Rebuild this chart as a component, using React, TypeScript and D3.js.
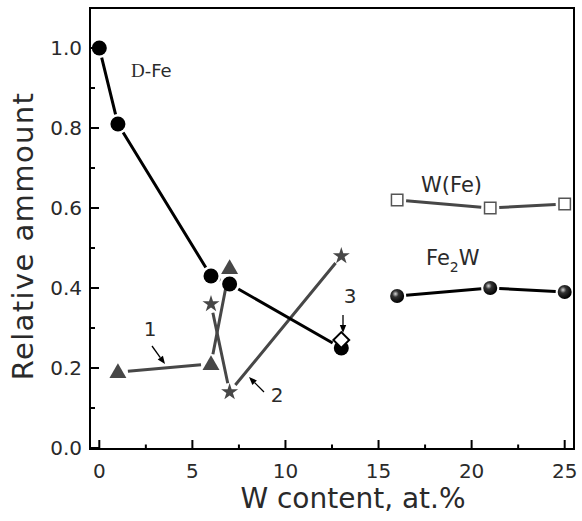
import React from "react";
import * as d3 from "d3";

const alphaFeX = [0, 1, 6, 7, 13];
const alphaFeY = [1.0, 0.81, 0.43, 0.41, 0.25];
const fe2wX = [16, 21, 25];
const fe2wY = [0.38, 0.40, 0.39];
const wfeX = [16, 21, 25];
const wfeY = [0.62, 0.60, 0.61];
const curve1X = [1, 6, 7];
const curve1Y = [0.19, 0.21, 0.45];
const curve2X = [6, 7, 13];
const curve2Y = [0.36, 0.14, 0.48];
const curve3X = [13];
const curve3Y = [0.27];
const xTicks = [0, 5, 10, 15, 20, 25];
const xMinor = [2.5, 7.5, 12.5, 17.5, 22.5];
const yTicks = [0.0, 0.2, 0.4, 0.6, 0.8, 1.0];
const yMinor = [0.1, 0.3, 0.5, 0.7, 0.9];

const W = 582, H = 521;
const left = 90, right = 574, top = 8, bottom = 449;
const x = d3.scaleLinear().domain([-0.5, 25.5]).range([left, right]);
const y = d3.scaleLinear().domain([-0.0025, 1.1]).range([bottom, top]);
const FONT = "'DejaVu Sans', Verdana, sans-serif";
const GRAY = "#474747";
const TXT = "#2a2a2a";

type P = [number, number];
const pts = (xs: number[], ys: number[]): P[] => xs.map((v, i) => [x(v), y(ys[i])]);

function segments(p: P[], gap: number): string {
  const line = d3.line();
  let d = "";
  for (let i = 0; i < p.length - 1; i++) {
    const [x1, y1] = p[i];
    const [x2, y2] = p[i + 1];
    const len = Math.hypot(x2 - x1, y2 - y1);
    if (len <= 2 * gap) continue;
    const ux = (x2 - x1) / len, uy = (y2 - y1) / len;
    d += line([[x1 + ux * gap, y1 + uy * gap], [x2 - ux * gap, y2 - uy * gap]]) || "";
  }
  return d;
}

const tri = d3.symbol().type(d3.symbolTriangle).size(125)()!;
const star = d3.symbol().type(d3.symbolStar).size(90)()!;
const sq = d3.symbol().type(d3.symbolSquare).size(130)()!;
const dia = d3.symbol().type(d3.symbolSquare).size(125)()!;

function Arrow({ x1, y1, x2, y2 }: { x1: number; y1: number; x2: number; y2: number }) {
  const a = Math.atan2(y2 - y1, x2 - x1);
  const L = 8, w = 3.2;
  const bx = x2 - Math.cos(a) * L, by = y2 - Math.sin(a) * L;
  const px = -Math.sin(a) * w, py = Math.cos(a) * w;
  return (
    <g>
      <line x1={x1} y1={y1} x2={bx} y2={by} stroke="#000" strokeWidth={1.3} />
      <path d={`M${x2},${y2}L${bx + px},${by + py}L${bx - px},${by - py}Z`} fill="#000" />
    </g>
  );
}

export default function App() {
  const aPts = pts(alphaFeX, alphaFeY);
  const fPts = pts(fe2wX, fe2wY);
  const wPts = pts(wfeX, wfeY);
  const c1 = pts(curve1X, curve1Y);
  const c2 = pts(curve2X, curve2Y);
  const c3 = pts(curve3X, curve3Y);
  return (
    <svg width={W} height={H} style={{ display: "block", position: "absolute", left: 0, top: 0, background: "#fff" }}>
      <defs>
        <radialGradient id="sph" cx="0.38" cy="0.35" r="0.65">
          <stop offset="0" stopColor="#d8d8d8" />
          <stop offset="0.35" stopColor="#333" />
          <stop offset="1" stopColor="#000" />
        </radialGradient>
      </defs>
      {/* frame */}
      <rect x={left} y={top} width={right - left} height={bottom - top} fill="none" stroke="#000" strokeWidth={2} />
      {/* x ticks */}
      {xTicks.map((t) => (
        <g key={"xt" + t}>
          <line x1={x(t)} x2={x(t)} y1={bottom} y2={bottom - 9} stroke="#000" strokeWidth={2} />
          <text x={x(t)} y={478} textAnchor="middle" fontFamily={FONT} fontSize={20} fill={TXT}>{t}</text>
        </g>
      ))}
      {xMinor.map((t) => (
        <line key={"xm" + t} x1={x(t)} x2={x(t)} y1={bottom} y2={bottom - 4.5} stroke="#000" strokeWidth={2} />
      ))}
      {yTicks.map((t) => (
        <g key={"yt" + t}>
          <line x1={left} x2={left + 9} y1={y(t)} y2={y(t)} stroke="#000" strokeWidth={2} />
          <text x={82} y={y(t) + 7} textAnchor="end" fontFamily={FONT} fontSize={20} fill={TXT}>{t.toFixed(1)}</text>
        </g>
      ))}
      {yMinor.map((t) => (
        <line key={"ym" + t} x1={left} x2={left + 5} y1={y(t)} y2={y(t)} stroke="#000" strokeWidth={2} />
      ))}
      {/* axis titles */}
      <text x={353} y={508} textAnchor="middle" fontFamily={FONT} fontSize={28} fill={TXT}>W content, at.%</text>
      <text transform={`translate(33,236) rotate(-90)`} textAnchor="middle" fontFamily={FONT} fontSize={29} letterSpacing={1.4} fill={TXT}>Relative ammount</text>

      {/* lines */}
      <path d={segments(c1, 10)} stroke={GRAY} strokeWidth={3} fill="none" />
      <path d={segments(c2, 9)} stroke={GRAY} strokeWidth={3} fill="none" />
      <path d={segments(aPts, 10)} stroke="#000" strokeWidth={3} fill="none" />
      <path d={segments(fPts, 9)} stroke="#000" strokeWidth={3} fill="none" />
      <path d={segments(wPts, 9)} stroke={GRAY} strokeWidth={3} fill="none" />

      {/* markers */}
      {aPts.map(([px, py], i) => (
        <circle key={"a" + i} cx={px} cy={py} r={7.5} fill="#000" />
      ))}
      {fPts.map(([px, py], i) => (
        <circle key={"f" + i} cx={px} cy={py} r={7} fill="url(#sph)" />
      ))}
      {wPts.map(([px, py], i) => (
        <path key={"w" + i} d={sq} transform={`translate(${px},${py})`} fill="#fff" stroke="#555" strokeWidth={1.5} />
      ))}
      {c1.map(([px, py], i) => (
        <path key={"c1" + i} d={tri} transform={`translate(${px},${py + 1})`} fill={GRAY} />
      ))}
      {c2.map(([px, py], i) => (
        <path key={"c2" + i} d={star} transform={`translate(${px},${py})`} fill={GRAY} />
      ))}
      {c3.map(([px, py], i) => (
        <path key={"c3" + i} d={dia} transform={`translate(${px},${py}) rotate(45)`} fill="#fff" stroke="#000" strokeWidth={2} />
      ))}

      {/* labels */}
      <text x={131} y={77} fontFamily={FONT} fontSize={18} fill={TXT}>
        <tspan fontFamily="'Liberation Serif', 'DejaVu Serif', serif" fontSize={19}>D</tspan>-Fe
      </text>
      <text x={421} y={192} fontFamily={FONT} fontSize={21} fill={TXT}>W(Fe)</text>
      <text x={426} y={265} fontFamily={FONT} fontSize={21} fill={TXT}>
        Fe<tspan fontSize={14} dy={7}>2</tspan><tspan dy={-7}>W</tspan>
      </text>
      <text x={150} y={336} textAnchor="middle" fontFamily={FONT} fontSize={20} fill={TXT}>1</text>
      <text x={277} y={402} textAnchor="middle" fontFamily={FONT} fontSize={20} fill={TXT}>2</text>
      <text x={350} y={303} textAnchor="middle" fontFamily={FONT} fontSize={20} fill={TXT}>3</text>
      <Arrow x1={152} y1={346} x2={165} y2={364} />
      <Arrow x1={264} y1={392} x2={249} y2={377} />
      <Arrow x1={343} y1={315} x2={343} y2={333} />
    </svg>
  );
}
